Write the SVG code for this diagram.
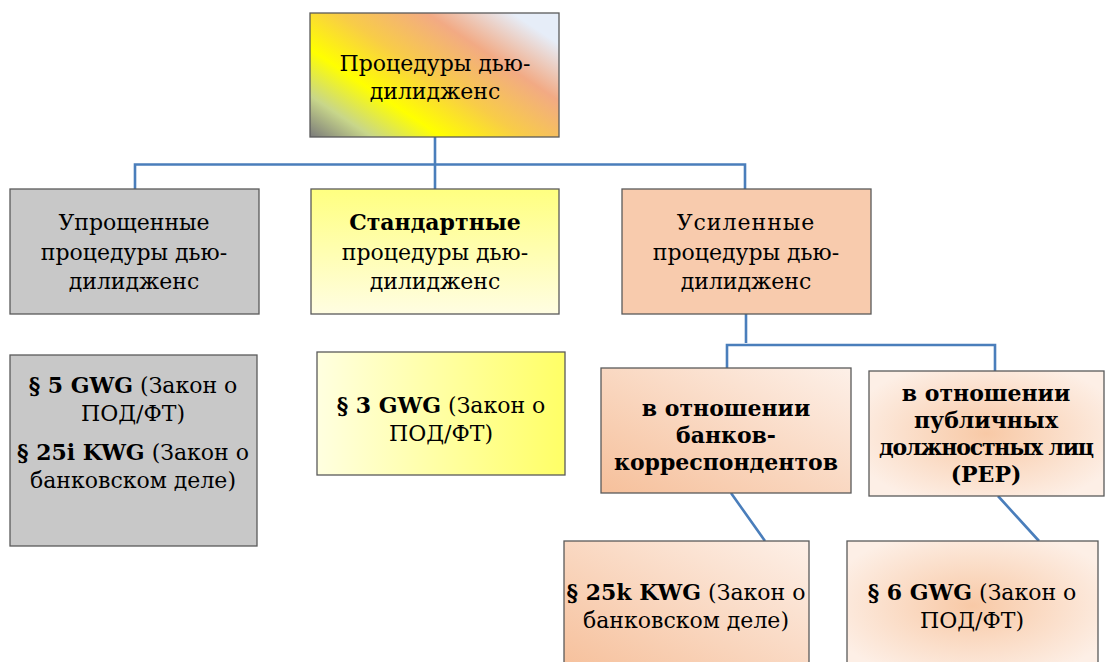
<svg xmlns="http://www.w3.org/2000/svg" width="1107" height="662" viewBox="0 0 1107 662">
<defs>
<linearGradient id="gTop" x1="0" y1="1" x2="1" y2="0.25">
<stop offset="0" stop-color="#7a7a7a"/>
<stop offset="0.16" stop-color="#c8d68a"/>
<stop offset="0.34" stop-color="#ffff00"/>
<stop offset="0.55" stop-color="#f8cc48"/>
<stop offset="0.78" stop-color="#f2aa84"/>
<stop offset="1" stop-color="#e6edf8"/>
</linearGradient>
<linearGradient id="gYel1" x1="0" y1="0" x2="0" y2="1">
<stop offset="0" stop-color="#ffff80"/>
<stop offset="1" stop-color="#fffde2"/>
</linearGradient>
<linearGradient id="gYel2" x1="0" y1="0" x2="1" y2="0">
<stop offset="0" stop-color="#ffffe0"/>
<stop offset="1" stop-color="#ffff66"/>
</linearGradient>
<linearGradient id="gOr" x1="0" y1="1" x2="1" y2="0">
<stop offset="0" stop-color="#f6c09b"/>
<stop offset="1" stop-color="#fdf0e8"/>
</linearGradient>
<radialGradient id="gOrR" cx="0.5" cy="0.5" r="0.6">
<stop offset="0" stop-color="#f8c9a6"/>
<stop offset="1" stop-color="#fdefe6"/>
</radialGradient>
</defs>
<style>
.box{stroke:#5a5a5a;stroke-width:1.3}
text{font-family:"DejaVu Serif","Liberation Serif",serif;font-size:22px;fill:#000;text-anchor:middle}
.b{font-weight:bold}
.conn{fill:none;stroke:#4a7ebb;stroke-width:2.6}
</style>
<g id="connectors">
<path class="conn" d="M435 137 V190 M135 190 V164.5 H745 V190 M746 314 V343 M727 368 V345 H995 V371 M731 493 L765 541 M998 496 L1039 541"/>
</g>
<g id="root">
<rect class="box" x="310" y="13" width="249" height="124" fill="url(#gTop)"/>
<text x="435" y="71">Процедуры дью-</text>
<text x="435" y="99">дилидженс</text>
</g>
<g id="simplified">
<rect class="box" x="10" y="189" width="249" height="125" fill="#c8c8c8"/>
<text x="134" y="230">Упрощенные</text>
<text x="134" y="260">процедуры дью-</text>
<text x="134" y="289">дилидженс</text>
</g>
<g id="standard">
<rect class="box" x="311" y="189" width="248" height="125" fill="url(#gYel1)"/>
<text class="b" x="435" y="230">Стандартные</text>
<text x="435" y="260">процедуры дью-</text>
<text x="435" y="289">дилидженс</text>
</g>
<g id="enhanced">
<rect class="box" x="622" y="189" width="249" height="125" fill="#f8cbad"/>
<text x="746" y="230" letter-spacing="1">Усиленные</text>
<text x="746" y="260">процедуры дью-</text>
<text x="746" y="289">дилидженс</text>
</g>
<g id="simplified-law">
<rect class="box" x="10" y="355" width="247" height="191" fill="#c8c8c8"/>
<text x="133" y="393"><tspan class="b">§ 5 GWG</tspan> (Закон о</text>
<text x="133" y="421">ПОД/ФТ)</text>
<text x="133" y="460"><tspan class="b">§ 25i KWG</tspan> (Закон о</text>
<text x="133" y="488">банковском деле)</text>
</g>
<g id="standard-law">
<rect class="box" x="317" y="352" width="248" height="123" fill="url(#gYel2)"/>
<text x="441" y="413"><tspan class="b">§ 3 GWG</tspan> (Закон о</text>
<text x="441" y="441">ПОД/ФТ)</text>
</g>
<g id="correspondent">
<rect class="box" x="601" y="368" width="250" height="125" fill="url(#gOr)"/>
<text class="b" x="726" y="416">в отношении</text>
<text class="b" x="726" y="443">банков-</text>
<text class="b" x="726" y="470">корреспондентов</text>
</g>
<g id="pep">
<rect class="box" x="869" y="371" width="235" height="125" fill="url(#gOrR)"/>
<text class="b" x="986" y="401">в отношении</text>
<text class="b" x="986" y="428">публичных</text>
<text class="b" x="986" y="455" letter-spacing="-1.2">должностных лиц</text>
<text class="b" x="986" y="482">(PEP)</text>
</g>
<g id="correspondent-law">
<rect class="box" x="564" y="541" width="245" height="130" fill="url(#gOr)"/>
<text x="686" y="600"><tspan class="b">§ 25k KWG</tspan> (Закон о</text>
<text x="686" y="628">банковском деле)</text>
</g>
<g id="pep-law">
<rect class="box" x="847" y="541" width="251" height="130" fill="url(#gOrR)"/>
<text x="972" y="600"><tspan class="b">§ 6 GWG</tspan> (Закон о</text>
<text x="972" y="628">ПОД/ФТ)</text>
</g>
</svg>
